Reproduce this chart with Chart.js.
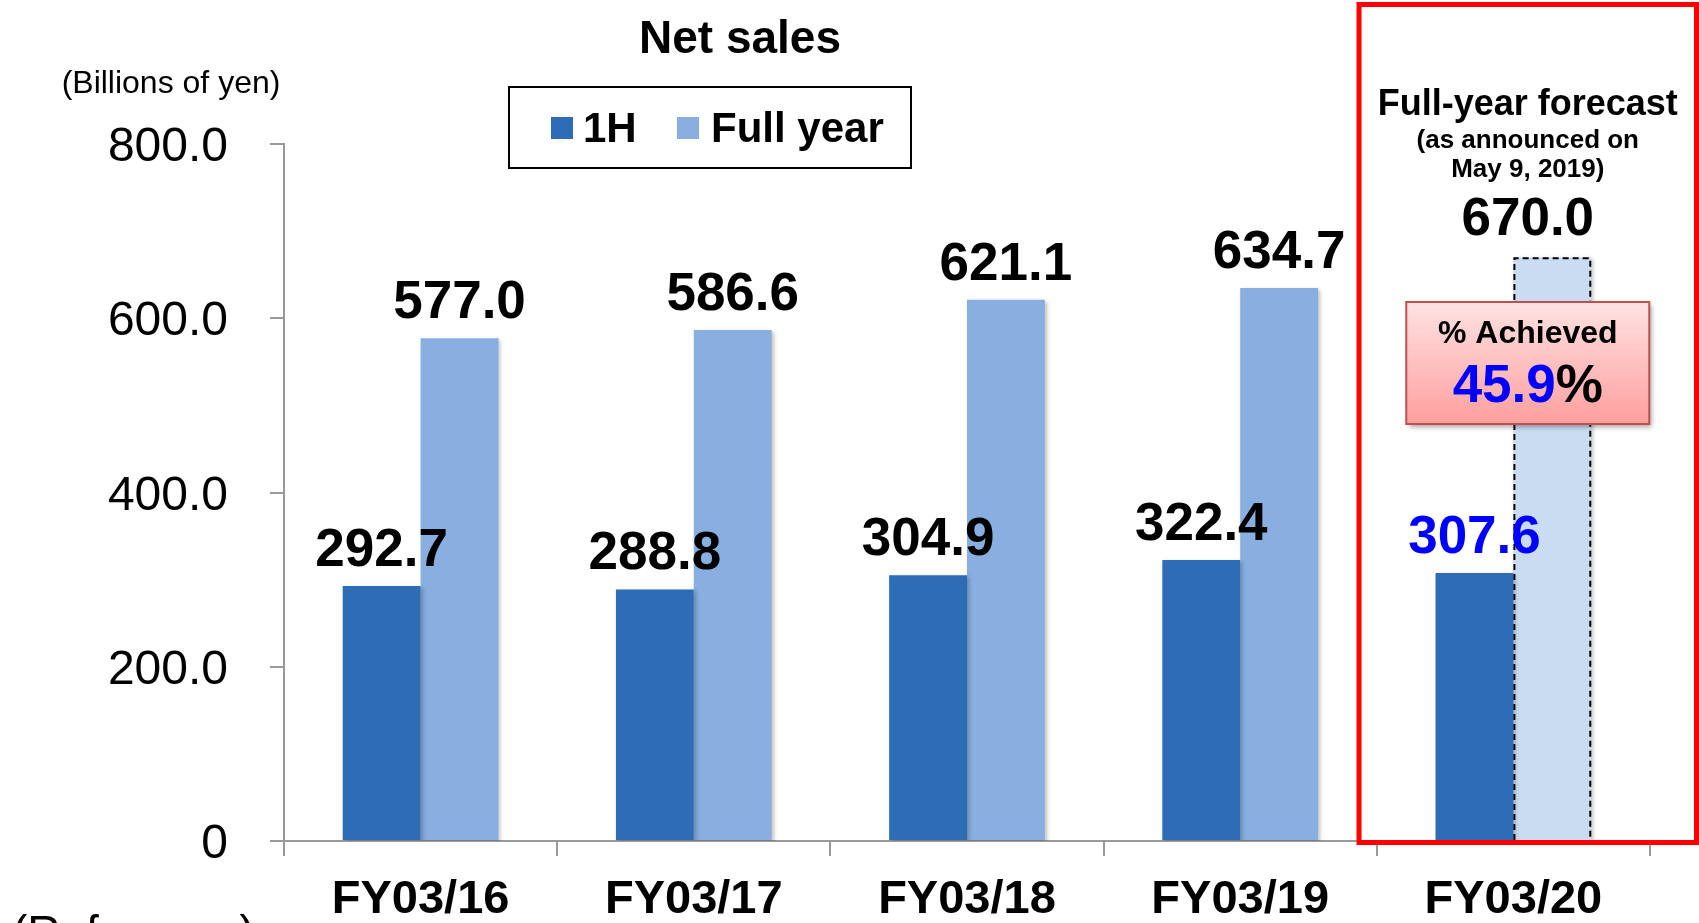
<!DOCTYPE html>
<html><head><meta charset="utf-8">
<script src="https://cdn.jsdelivr.net/npm/chart.js@4.4.1/dist/chart.umd.min.js"></script>
<style>html,body{margin:0;padding:0;background:#fff;overflow:hidden}#wrap{width:1699px;height:923px;position:relative}</style>
</head><body><div id="wrap"><canvas id="c" width="1699" height="923"></canvas></div>
<script>
const categories = ['FY03/16', 'FY03/17', 'FY03/18', 'FY03/19', 'FY03/20'];
const firstHalf = [292.7, 288.8, 304.9, 322.4, 307.6];
const fullYear = [577.0, 586.6, 621.1, 634.7, 670.0];
const yTickLabels = ['0', '200.0', '400.0', '600.0', '800.0'];
const seriesNames = ['1H', 'Full year'];
const achievedPct = '45.9';
const forecastLines = ['Full-year forecast', '(as announced on', 'May 9, 2019)'];

const FONT = '"Liberation Sans", Arial, Helvetica, sans-serif';
const C_1H = '#2E6DB6';
const C_FY = '#88AFE0';
const C_FC = '#CADCF2';

function f(w, s) { return w + ' ' + s + 'px ' + FONT; }

const decor = {
  id: 'decor',
  beforeDatasetsDraw(chart) {
    const c = chart.ctx; c.save();
    c.shadowColor = 'rgba(0,0,0,0.25)'; c.shadowBlur = 4; c.shadowOffsetX = 2; c.shadowOffsetY = 2;
  },
  afterDatasetsDraw(chart) { chart.ctx.restore(); },
  afterDraw(chart) {
    const ctx = chart.ctx;
    const xs = chart.scales.x;
    const m0 = chart.getDatasetMeta(0), m1 = chart.getDatasetMeta(1);
    const last = categories.length - 1;
    ctx.save();
    // dashed outline of the forecast bar
    const fb = m1.data[last];
    const l = fb.x - fb.width / 2, r = fb.x + fb.width / 2;
    ctx.setLineDash([6, 4]); ctx.lineWidth = 2; ctx.strokeStyle = '#000';
    ctx.beginPath(); ctx.moveTo(l + 1, fb.base); ctx.lineTo(l + 1, fb.y + 1); ctx.lineTo(r - 1, fb.y + 1); ctx.lineTo(r - 1, fb.base); ctx.stroke();
    ctx.setLineDash([]);

    // value labels
    ctx.textAlign = 'center'; ctx.textBaseline = 'alphabetic';
    ctx.font = f('bold', 53);
    m0.data.forEach((b, i) => {
      ctx.fillStyle = i === last ? '#0000FF' : '#000';
      ctx.fillText(firstHalf[i].toFixed(1), b.x, b.y - 20);
    });
    ctx.fillStyle = '#000';
    m1.data.forEach((b, i) => {
      if (i === last) return;
      ctx.fillText(fullYear[i].toFixed(1), b.x, b.y - 20);
    });

    // red forecast frame
    const step = xs.getPixelForValue(last) - xs.getPixelForValue(last - 1);
    const bl = xs.getPixelForValue(last) - step * 0.565;
    const br = chart.width - 2.5;
    const bt = 4.5, bb = chart.chartArea.bottom + 1.5;
    ctx.strokeStyle = '#FF0000'; ctx.lineWidth = 5;
    ctx.strokeRect(bl, bt, br - bl, bb - bt);
    const cx = (bl + br) / 2;

    ctx.fillStyle = '#000';
    ctx.font = f('bold', 36); ctx.fillText(forecastLines[0], cx, 115);
    ctx.font = f('bold', 26); ctx.fillText(forecastLines[1], cx, 148);
    ctx.fillText(forecastLines[2], cx, 177);
    ctx.font = f('bold', 53); ctx.fillText(fullYear[last].toFixed(1), cx, fb.y - 22);

    // % Achieved box
    const aw = 243, ax = cx - aw / 2, ay = 302, ah = 122;
    ctx.save();
    ctx.shadowColor = 'rgba(0,0,0,0.35)'; ctx.shadowBlur = 5; ctx.shadowOffsetX = 3; ctx.shadowOffsetY = 3;
    const g = ctx.createLinearGradient(0, ay, 0, ay + ah);
    g.addColorStop(0, '#FFE2E2'); g.addColorStop(1, '#FF9F9F');
    ctx.fillStyle = g; ctx.fillRect(ax, ay, aw, ah);
    ctx.restore();
    ctx.strokeStyle = '#C0504D'; ctx.lineWidth = 2; ctx.strokeRect(ax, ay, aw, ah);
    ctx.fillStyle = '#000'; ctx.font = f('bold', 32); ctx.textAlign = 'center';
    ctx.fillText('% Achieved', cx, 343);
    ctx.font = f('bold', 53);
    const w1 = ctx.measureText(achievedPct).width, w2 = ctx.measureText('%').width;
    const sx = cx - (w1 + w2) / 2;
    ctx.textAlign = 'left';
    ctx.fillStyle = '#0000FF'; ctx.fillText(achievedPct, sx, 402);
    ctx.fillStyle = '#000'; ctx.fillText('%', sx + w1, 402);

    // legend
    ctx.strokeStyle = '#000'; ctx.lineWidth = 2;
    ctx.strokeRect(509, 87, 402, 81);
    ctx.font = f('bold', 42); ctx.textAlign = 'left';
    ctx.fillStyle = C_1H; ctx.fillRect(551, 117, 22, 22);
    ctx.fillStyle = '#000'; ctx.fillText(seriesNames[0], 583, 142);
    ctx.fillStyle = C_FY; ctx.fillRect(677, 117, 22, 22);
    ctx.fillStyle = '#000'; ctx.fillText(seriesNames[1], 711, 142);

    // title & unit
    ctx.textAlign = 'center';
    ctx.font = f('bold', 46); ctx.fillText('Net sales', 740, 53);
    ctx.font = f('normal', 32); ctx.fillText('(Billions of yen)', 171, 93);
    ctx.textAlign = 'left';
    ctx.font = f('normal', 46); ctx.fillText('(Reference)', 12, 948);
    ctx.restore();
  }
};

new Chart(document.getElementById('c'), {
  type: 'bar',
  data: {
    labels: categories,
    datasets: [
      { label: seriesNames[0], data: firstHalf, backgroundColor: C_1H, borderWidth: 0 },
      { label: seriesNames[1], data: fullYear, backgroundColor: fullYear.map((v, i) => i === fullYear.length - 1 ? C_FC : C_FY), borderWidth: 0 }
    ]
  },
  options: {
    responsive: false, animation: false, devicePixelRatio: 1,
    layout: { padding: { left: 0, right: 49, top: 144, bottom: 0 } },
    datasets: { bar: { categoryPercentage: 0.57, barPercentage: 1 } },
    plugins: { legend: { display: false }, title: { display: false }, tooltip: { enabled: false } },
    scales: {
      x: {
        afterFit(s) { s.height = 82; },
        grid: { offset: true, drawOnChartArea: false, drawTicks: true, tickLength: 15, color: '#9A9A9A', lineWidth: 2 },
        border: { color: '#9A9A9A', width: 2 },
        ticks: { font: { family: FONT, size: 47, weight: 'bold' }, color: '#000', padding: 16, maxRotation: 0, autoSkip: false }
      },
      y: {
        min: 0, max: 800,
        afterFit(s) { s.width = 284; },
        grid: { drawOnChartArea: false, drawTicks: true, tickLength: 14, color: '#9A9A9A', lineWidth: 2 },
        border: { color: '#9A9A9A', width: 2 },
        ticks: { stepSize: 200, font: { family: FONT, size: 48 }, color: '#000', padding: 42, labelOffset: 4,
          callback: (v, i) => yTickLabels[i] }
      }
    }
  },
  plugins: [decor]
});
</script></body></html>
